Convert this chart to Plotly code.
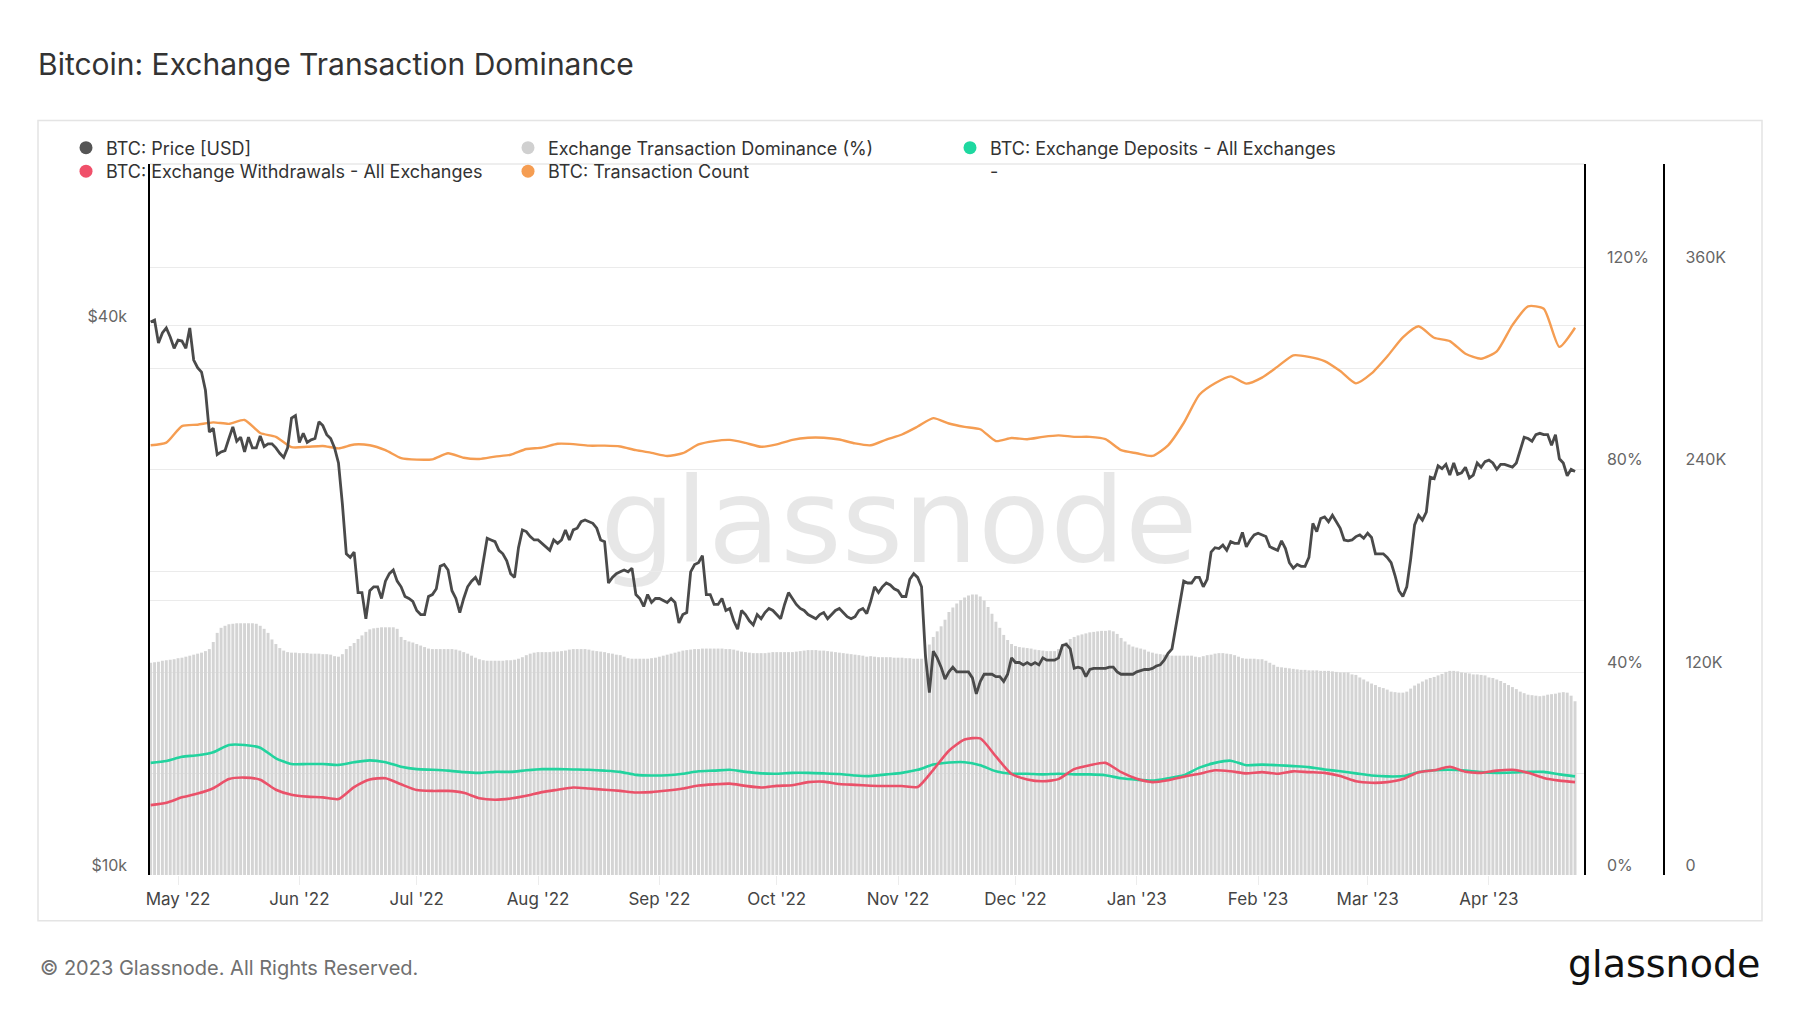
import pandas as pd
import plotly.graph_objects as go

# ---------------- data ----------------
dates_daily = pd.date_range("2022-04-24", periods=365, freq="D")
dates_4d = pd.date_range("2022-04-24", periods=92, freq="4D")

price_k = [
    40.4, 40.6, 38.3, 39.3, 39.8, 38.9, 37.8, 38.6, 38.5, 37.8,
    39.8, 36.7, 36.0, 35.6, 34.0, 30.6, 30.9, 28.9, 29.1, 29.2,
    30.1, 31.0, 29.9, 30.2, 29.1, 30.2, 29.4, 29.4, 30.3, 29.5,
    29.7, 29.7, 29.4, 29.0, 28.7, 29.4, 31.7, 31.9, 29.8, 30.5,
    29.8, 30.0, 30.1, 31.4, 31.1, 30.4, 30.1, 29.4, 28.3, 25.5,
    22.5, 22.3, 22.6, 20.4, 20.4, 19.1, 20.5, 20.7, 20.7, 20.1,
    21.0, 21.4, 21.6, 21.0, 20.7, 20.2, 20.1, 19.95, 19.5, 19.3,
    19.3, 20.2, 20.3, 20.6, 21.8, 21.9, 21.6, 20.5, 20.1, 19.4,
    20.1, 20.7, 21.0, 21.2, 20.8, 22.2, 23.4, 23.3, 23.2, 22.7,
    22.5, 22.1, 21.4, 21.2, 22.85, 23.9, 23.8, 23.5, 23.3, 23.3,
    23.1, 22.9, 22.7, 23.3, 23.1, 23.3, 23.9, 23.3, 23.9, 24.0,
    24.4, 24.5, 24.4, 24.3, 24.0, 23.3, 23.2, 20.9, 21.2, 21.4,
    21.5, 21.6, 21.5, 21.7, 20.3, 20.1, 19.7, 20.3, 19.9, 20.1,
    20.1, 20.0, 19.9, 20.1, 19.9, 18.9, 19.3, 19.4, 21.5, 21.9,
    22.0, 22.4, 20.3, 20.3, 19.8, 19.8, 20.1, 19.5, 19.6, 19.0,
    18.6, 19.5, 19.3, 19.0, 18.8, 19.3, 19.1, 19.4, 19.6, 19.5,
    19.3, 19.1, 19.8, 20.4, 20.1, 19.8, 19.6, 19.5, 19.3, 19.2,
    19.1, 19.3, 19.4, 19.1, 19.3, 19.5, 19.6, 19.4, 19.2, 19.1,
    19.2, 19.5, 19.6, 19.35, 19.95, 20.7, 20.4, 20.7, 20.9, 20.8,
    20.6, 20.5, 20.2, 20.2, 21.1, 21.4, 21.2, 20.7, 17.4, 15.85,
    17.6, 17.3, 16.9, 16.4, 16.7, 16.9, 16.7, 16.7, 16.7, 16.7,
    16.45, 15.8, 16.3, 16.6, 16.6, 16.6, 16.5, 16.5, 16.3, 16.6,
    17.3, 17.1, 17.1, 17.0, 17.1, 17.0, 17.1, 17.0, 17.3, 17.2,
    17.2, 17.2, 17.3, 17.85, 17.9, 17.7, 16.85, 16.9, 16.85, 16.5,
    16.8, 16.85, 16.85, 16.85, 16.85, 16.9, 16.9, 16.7, 16.6, 16.6,
    16.6, 16.6, 16.7, 16.75, 16.8, 16.8, 16.85, 16.95, 17.0, 17.2,
    17.5, 17.7, 18.7, 19.9, 21.0, 20.9, 20.9, 21.2, 21.2, 20.7,
    21.1, 22.6, 22.85, 22.8, 23.0, 22.7, 23.2, 23.1, 23.1, 23.75,
    22.9, 23.3, 23.6, 23.7, 23.6, 23.5, 22.9, 22.8, 22.7, 23.25,
    22.8, 22.0, 21.7, 21.9, 21.8, 21.8, 22.3, 24.3, 23.8, 24.6,
    24.7, 24.4, 24.8, 24.4, 24.0, 23.3, 23.25, 23.3, 23.5, 23.6,
    23.4, 23.7, 23.45, 22.5, 22.5, 22.5, 22.3, 22.0, 21.3, 20.5,
    20.2, 20.7, 22.2, 24.2, 24.8, 24.5, 25.0, 27.3, 27.2, 28.1,
    27.9, 28.2, 27.45, 28.3, 27.5, 27.6, 28.0, 27.25, 27.45, 28.3,
    28.0, 28.4, 28.5, 28.3, 27.85, 28.2, 28.2, 28.1, 28.0, 28.3,
    29.2, 30.2, 30.1, 29.9, 30.4, 30.5, 30.4, 30.4, 29.6, 30.4,
    28.6, 28.3, 27.4, 27.85, 27.7,
]

dominance_pct = [
    41.9, 42.0, 42.1, 42.3, 42.4, 42.5, 42.6, 42.8, 42.9, 43.1,
    43.3, 43.5, 43.7, 43.9, 44.2, 44.6, 46.0, 47.8, 48.8, 49.2,
    49.5, 49.6, 49.7, 49.7, 49.7, 49.7, 49.7, 49.6, 49.2, 48.6,
    47.8, 46.5, 45.6, 44.8, 44.3, 44.0, 43.9, 43.9, 43.8, 43.8,
    43.8, 43.7, 43.7, 43.7, 43.6, 43.6, 43.5, 43.2, 43.1, 43.6,
    44.6, 45.2, 45.8, 46.6, 47.3, 48.0, 48.5, 48.7, 48.8, 48.9,
    48.9, 48.9, 48.9, 48.6, 47.0, 46.4, 46.1, 45.9, 45.6, 45.3,
    45.0, 44.7, 44.6, 44.6, 44.6, 44.6, 44.6, 44.6, 44.5, 44.3,
    44.0, 43.7, 43.3, 42.9, 42.6, 42.4, 42.3, 42.3, 42.3, 42.3,
    42.3, 42.4, 42.4, 42.5, 42.7, 43.0, 43.4, 43.7, 43.9, 44.0,
    44.0, 44.0, 44.0, 44.1, 44.1, 44.2, 44.3, 44.5, 44.6, 44.6,
    44.6, 44.6, 44.5, 44.3, 44.2, 44.1, 44.0, 43.8, 43.7, 43.5,
    43.4, 43.1, 42.8, 42.7, 42.7, 42.7, 42.7, 42.7, 42.8, 42.9,
    43.1, 43.3, 43.5, 43.7, 43.9, 44.1, 44.3, 44.4, 44.5, 44.6,
    44.6, 44.7, 44.7, 44.7, 44.7, 44.7, 44.7, 44.6, 44.6, 44.5,
    44.3, 44.1, 44.0, 43.9, 43.8, 43.8, 43.8, 43.8, 43.9, 44.0,
    44.0, 44.0, 44.0, 44.0, 44.0, 44.1, 44.2, 44.3, 44.4, 44.4,
    44.4, 44.3, 44.3, 44.2, 44.1, 44.0, 43.9, 43.8, 43.7, 43.6,
    43.5, 43.4, 43.3, 43.1, 43.2, 43.1, 43.0, 43.0, 43.0, 43.0,
    42.9, 42.9, 42.9, 42.8, 42.8, 42.7, 42.7, 42.7, 43.5, 45.5,
    47.0, 48.1, 49.1, 50.4, 51.9, 52.8, 53.6, 54.3, 54.8, 55.2,
    55.4, 55.4, 55.0, 54.2, 52.9, 51.6, 50.0, 48.8, 47.4, 46.4,
    45.6, 45.2, 45.0, 44.9, 44.8, 44.7, 44.5, 44.4, 44.3, 44.2,
    44.2, 44.2, 44.6, 45.3, 46.0, 46.6, 47.0, 47.3, 47.5, 47.7,
    47.9, 48.0, 48.1, 48.2, 48.2, 48.3, 48.1, 47.6, 46.8, 46.1,
    45.5, 45.1, 44.9, 44.7, 44.5, 44.1, 43.9, 43.7, 43.6, 43.5,
    43.4, 43.3, 43.3, 43.3, 43.3, 43.3, 43.3, 43.1, 43.0, 43.2,
    43.4, 43.5, 43.7, 43.8, 43.8, 43.7, 43.6, 43.4, 43.1, 42.8,
    42.7, 42.7, 42.7, 42.6, 42.6, 42.3, 41.9, 41.5, 41.1, 41.0,
    40.9, 40.8, 40.7, 40.6, 40.5, 40.5, 40.4, 40.4, 40.4, 40.3,
    40.3, 40.3, 40.2, 40.1, 40.0, 40.0, 40.0, 39.6, 39.5, 39.0,
    38.6, 38.2, 37.8, 37.5, 37.1, 36.9, 36.6, 36.2, 36.1, 36.0,
    36.0, 36.2, 36.8, 37.4, 37.8, 38.2, 38.6, 38.9, 39.1, 39.4,
    39.7, 40.1, 40.3, 40.3, 40.2, 40.0, 39.9, 39.8, 39.6, 39.6,
    39.5, 39.4, 39.0, 38.9, 38.6, 38.3, 37.9, 37.5, 37.1, 36.7,
    36.2, 35.9, 35.6, 35.5, 35.4, 35.3, 35.4, 35.6, 35.7, 35.8,
    36.0, 36.1, 36.0, 35.4, 34.3,
]

tx_count_k = [
    254.5, 256.1, 265.9, 266.7, 268.1, 267.2, 269.5, 261.8, 259.5, 253.4, 253.6, 254.1, 252.7, 255.0, 254.5, 251.6,
    246.9, 246.0, 246.2, 249.8, 247.1, 246.4, 247.8, 248.9, 252.3, 253.1, 255.4, 255.2, 254.3, 254.3, 253.8,
    251.6, 250.0, 248.2, 249.8, 255.0, 257.0, 257.7, 255.9, 253.6, 255.0, 257.7, 259.0, 259.0, 257.9, 255.6,
    254.5, 257.9, 260.9, 265.6, 270.6, 267.4, 265.4, 264.0, 257.0, 258.8, 258.1, 259.5, 260.4, 259.5, 259.5, 258.1,
    251.6, 249.8, 248.2, 254.5, 267.7, 284.4, 291.2, 295.3, 291.0, 294.6, 301.1, 307.8, 306.9, 304.4, 298.5,
    291.2, 297.1, 307.1, 318.4, 325.0, 318.2, 316.2, 308.7, 305.8, 310.1, 325.7, 336.8, 335.4, 312.8, 324.1,
]

deposits_k = [
    66.4, 67.5, 70.0, 70.9, 72.7, 77.0, 77.0, 75.4, 69.1, 65.7, 65.7, 65.7, 65.2, 66.8, 67.9, 66.8,
    64.1, 62.7, 62.3, 61.8, 60.9, 60.5, 61.1, 61.1, 62.0, 62.7, 62.7, 62.5, 62.3, 61.8, 61.1,
    59.3, 58.9, 59.1, 60.0, 61.4, 61.8, 62.3, 61.1, 60.2, 60.0, 60.5, 60.5, 60.2, 59.8, 58.9,
    58.6, 59.6, 60.5, 62.3, 65.4, 66.6, 66.8, 65.0, 61.4, 60.0, 60.0, 59.6, 60.0, 59.6, 59.6, 59.1,
    57.3, 56.4, 55.9, 57.3, 59.1, 63.6, 66.4, 67.7, 65.0, 65.4, 65.0, 64.5, 63.9, 62.5, 61.4,
    60.2, 58.9, 58.4, 58.6, 60.9, 62.0, 62.3, 61.8, 60.9, 60.5, 60.7, 61.1, 61.1, 59.6, 58.4,
]

withdrawals_k = [
    41.4, 42.8, 46.0, 48.2, 51.4, 56.8, 57.7, 56.4, 50.5, 47.5, 46.4, 46.0, 45.0, 52.1, 56.6, 57.3,
    53.7, 50.3, 49.8, 49.8, 48.7, 45.5, 44.6, 45.3, 46.9, 49.1, 50.5, 51.8, 51.2, 50.5, 49.8,
    48.9, 49.1, 50.0, 51.2, 53.0, 53.7, 54.1, 52.8, 51.8, 52.8, 53.2, 55.0, 55.3, 53.9, 53.4,
    52.9, 52.7, 52.7, 52.1, 62.3, 73.6, 80.2, 80.9, 70.2, 59.8, 56.6, 55.5, 56.8, 62.7, 65.0, 66.4,
    60.9, 57.0, 55.0, 56.1, 58.2, 60.0, 62.0, 61.4, 60.2, 60.9, 60.0, 61.4, 60.9, 60.5, 58.6,
    55.5, 54.6, 55.0, 56.8, 60.9, 62.0, 64.1, 61.1, 60.5, 61.8, 62.3, 60.5, 57.5, 55.9, 55.0,
]

pct_tickvals = [0, 20, 40, 60, 80, 100, 120]
pct_ticktext = ["0%", "", "40%", "", "80%", "", "120%"]
count_tickvals = [0, 120000, 240000, 360000]
count_ticktext = ["0", "120K", "240K", "360K"]
price_tickvals = [10000, 20000, 40000]
price_ticktext = ["$10k", "", "$40k"]

# ---------------- styling ----------------
C_PRICE = "#4a4a4a"
C_DOM = "#d4d4d4"
C_DEP = "#22d39e"
C_WD = "#ea5169"
C_CNT = "#f59d52"
FONT = "Inter, Roboto, sans-serif"

fig = go.Figure()

fig.add_trace(go.Bar(x=dates_daily, y=dominance_pct, yaxis="y",
                     marker=dict(color=C_DOM, line=dict(width=0)),
                     showlegend=False, hoverinfo="skip"))
fig.add_trace(go.Scatter(x=dates_4d, y=[v * 1000 for v in deposits_k], yaxis="y2",
                         mode="lines", line=dict(color=C_DEP, width=2.6, shape="spline", smoothing=0.6),
                         showlegend=False))
fig.add_trace(go.Scatter(x=dates_4d, y=[v * 1000 for v in withdrawals_k], yaxis="y2",
                         mode="lines", line=dict(color=C_WD, width=2.6, shape="spline", smoothing=0.6),
                         showlegend=False))
fig.add_trace(go.Scatter(x=dates_4d, y=[v * 1000 for v in tx_count_k], yaxis="y2",
                         mode="lines", line=dict(color=C_CNT, width=2.4, shape="spline", smoothing=0.6),
                         showlegend=False))
fig.add_trace(go.Scatter(x=dates_daily, y=[v * 1000 for v in price_k], yaxis="y3",
                         mode="lines", line=dict(color=C_PRICE, width=2.8),
                         showlegend=False))

# legend entries (dot markers)
legend_rows = [
    ("BTC: Price [USD]", "#555555", "legend", 1),
    ("Exchange Transaction Dominance (%)", "#d0d0d0", "legend", 1),
    ("BTC: Exchange Deposits - All Exchanges", "#1ed8a0", "legend", 1),
    ("BTC: Exchange Withdrawals - All Exchanges", "#f0506a", "legend2", 1),
    ("BTC: Transaction Count", "#f59d52", "legend2", 1),
    ("-", "#ffffff", "legend2", 0),
]
for name, col, lg, op in legend_rows:
    fig.add_trace(go.Scatter(x=[None], y=[None], mode="markers", name=name, legend=lg,
                             marker=dict(color=col, size=13, opacity=op)))

xdom_end = 1434 / 1550
legend_common = dict(orientation="h", xanchor="left",
                     bgcolor="rgba(0,0,0,0)", font=dict(family=FONT, size=18, color="#333"),
                     entrywidth=397, entrywidthmode="pixels", itemclick=False, itemdoubleclick=False)

fig.update_layout(
    width=1800, height=1013,
    margin=dict(l=150, r=100, t=164, b=138),
    paper_bgcolor="white", plot_bgcolor="rgba(0,0,0,0)",
    font=dict(family=FONT, size=16, color="#666"),
    bargap=0.25,
    title=dict(text="Bitcoin: Exchange Transaction Dominance", x=38 / 1800, xanchor="left",
               xref="container", y=1 - 64 / 1013, yanchor="middle", yref="container",
               font=dict(family=FONT, size=30, color="#333")),
    legend=dict(x=(66 - 150) / 1550, y=(875 - 148) / 711, yanchor="middle", **legend_common),
    legend2=dict(x=(66 - 150) / 1550, y=(875 - 153) / 711, yanchor="top", **legend_common),
    xaxis=dict(domain=[0, xdom_end], type="date",
               range=["2022-04-23 20:00", "2023-04-25 07:00"],
               tick0="2022-05-01", dtick="M1", tickformat="%b '%y",
               ticks="outside", ticklen=9, tickcolor="#ececec", showgrid=False,
               showline=False, zeroline=False,
               tickfont=dict(family=FONT, size=17, color="#444")),
    yaxis=dict(side="right", anchor="x", range=[0, 140.37],
               tickvals=pct_tickvals, ticktext=pct_ticktext,
               showgrid=True, gridcolor="#ebebeb", gridwidth=1, zeroline=False,
               showline=True, linecolor="#000", linewidth=1.5, ticks="",
               ticklabelstandoff=18, ticklabelshift=-10,
               tickfont=dict(family=FONT, size=16, color="#666")),
    yaxis2=dict(overlaying="y", side="right", anchor="free", position=(1663.5 - 150) / 1550,
                range=[0, 421100], tickvals=count_tickvals, ticktext=count_ticktext,
                showgrid=False, zeroline=False, showline=True, linecolor="#000", linewidth=1.5,
                ticks="", ticklabelstandoff=18, ticklabelshift=-10,
                tickfont=dict(family=FONT, size=16, color="#666")),
    yaxis3=dict(overlaying="y", side="left", anchor="x", type="log", range=[4, 4.7796],
                tickvals=price_tickvals, ticktext=price_ticktext,
                showgrid=True, gridcolor="#ebebeb", gridwidth=1, zeroline=False,
                showline=True, linecolor="#000", linewidth=1.5, ticks="",
                ticklabelstandoff=18, ticklabelshift=-10,
                tickfont=dict(family=FONT, size=16, color="#666")),
    shapes=[
        dict(type="rect", xref="paper", yref="paper",
             x0=(38 - 150) / 1550, x1=(1762 - 150) / 1550,
             y0=(875 - 920.7) / 711, y1=(875 - 120.5) / 711,
             line=dict(color="#e4e4e4", width=1.5), fillcolor="rgba(0,0,0,0)", layer="below"),
        dict(type="line", xref="x domain", yref="y domain", x0=0, x1=1, y0=1, y1=1,
             line=dict(color="#dddddd", width=1)),
        dict(type="rect", xref="paper", yref="paper",
             x0=(899 - 150) / 1550 - 0.2, x1=(899 - 150) / 1550 + 0.2,
             y0=(875 - 513) / 711 - 0.08, y1=(875 - 513) / 711 + 0.08,
             line=dict(width=0), fillcolor="rgba(0,0,0,0)", layer="below",
             label=dict(text="glassnode", textposition="middle center",
                        font=dict(family="DejaVu Sans", size=118, color="rgba(0,0,0,0.095)"))),
    ],
    annotations=[
        dict(text="© 2023 Glassnode. All Rights Reserved.", xref="paper", yref="paper",
             x=(38 - 150) / 1550, y=(875 - 968) / 711, xanchor="left", yanchor="middle",
             showarrow=False, font=dict(family=FONT, size=20, color="#707070")),
        dict(text="glassnode", xref="paper", yref="paper",
             x=(1762 - 150) / 1550, y=(875 - 964) / 711, xanchor="right", yanchor="middle",
             showarrow=False, font=dict(family="DejaVu Sans", size=38, color="#111")),
    ],
)

fig.write_html("out.html")
